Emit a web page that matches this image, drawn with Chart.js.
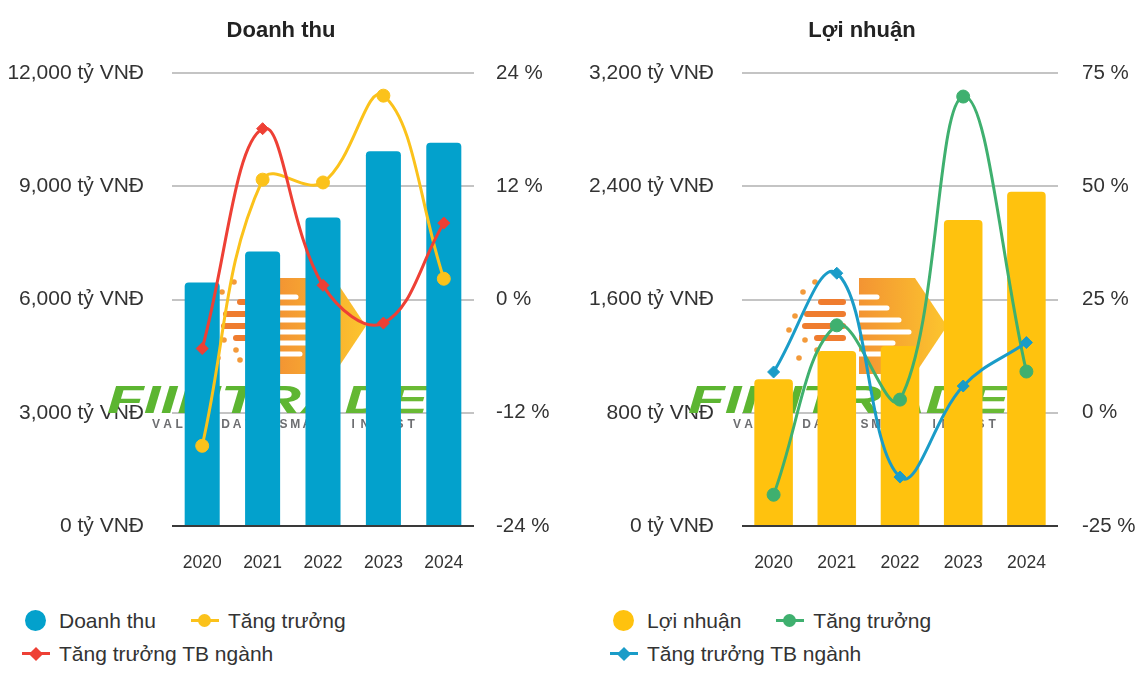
<!DOCTYPE html>
<html>
<head>
<meta charset="utf-8">
<script src="https://cdn.jsdelivr.net/npm/chart.js"></script>
<style>
body{margin:0;background:#fff;font-family:Arial,"Liberation Sans",sans-serif;}
#page{position:relative;width:1147px;height:695px;overflow:hidden}
.box{position:absolute;top:0;width:562px;height:590px}
.legend{position:absolute;top:604px;width:530px;display:flex;flex-wrap:wrap;column-gap:35px;font-size:21px;color:#333;line-height:33px}
.item{display:flex;align-items:center;white-space:nowrap}
.mk{position:relative;width:28px;height:33px;margin-right:9px}
.mk .dot{position:absolute;left:3px;top:6px;width:21px;height:21px;border-radius:50%}
.mk .ln{position:absolute;left:0;top:15px;width:28px;height:3px}
.mk .pc{position:absolute;left:7px;top:10px;width:13px;height:13px;border-radius:50%}
.mk .pd{position:absolute;left:9px;top:11.5px;width:10px;height:10px;transform:rotate(45deg)}
</style>
</head>
<body>
<div id="page">
  <div class="box" style="left:0"><canvas id="c1" width="562" height="590"></canvas></div>
  <div class="box" style="left:581px"><canvas id="c2" width="562" height="590"></canvas></div>
  <div class="legend" id="lg1" style="left:22px"></div>
  <div class="legend" id="lg2" style="left:610px"></div>
</div>
<script>
// values
const years = ['2020', '2021', '2022', '2023', '2024'];
const revenue = [6450, 7270, 8170, 9930, 10150];          // tỷ VNĐ
const revenueGrowth = [-15.5, 12.7, 12.4, 21.6, 2.2];      // %
const revenueIndustry = [-5.2, 18.1, 1.5, -2.5, 8.1];      // %
const profit = [1036, 1236, 1272, 2162, 2362];             // tỷ VNĐ
const profitGrowth = [-18.1, 19.3, 2.9, 69.8, 9.1];        // %
const profitIndustry = [9.0, 30.8, -14.2, 5.9, 15.5];      // %

// axis ticks
const revAxis = [0, 3000, 6000, 9000, 12000];
const revPctAxis = [-24, -12, 0, 12, 24];
const profAxis = [0, 800, 1600, 2400, 3200];
const profPctAxis = [-25, 0, 25, 50, 75];

const FONT = 'Arial, "Liberation Sans", sans-serif';

// FiinTrade watermark, drawn between grid and bars
const watermark = {
  id: 'watermark',
  beforeDatasetsDraw(chart) {
    const ctx = chart.ctx;
    ctx.save();
    // chevron body
    const g = ctx.createLinearGradient(278, 0, 366, 0);
    g.addColorStop(0, '#f39433');
    g.addColorStop(1, '#fcc52e');
    ctx.fillStyle = g;
    ctx.beginPath();
    ctx.moveTo(278, 278); ctx.lineTo(334, 278); ctx.lineTo(366, 326);
    ctx.lineTo(334, 374); ctx.lineTo(278, 374); ctx.closePath();
    ctx.fill();
    ctx.lineCap = 'round';
    // white stripes cut into the body
    const wRows = [297, 308, 320, 332, 343, 354];
    const wEnd = [296, 306, 318, 328, 312, 300];
    ctx.strokeStyle = '#ffffff';
    ctx.lineWidth = 5;
    wRows.forEach((y, i) => {
      ctx.beginPath(); ctx.moveTo(276, y); ctx.lineTo(wEnd[i], y); ctx.stroke();
    });
    // orange stripes and dots on the left
    const oRows = [302, 314, 326, 338];
    const oStart = [240, 226, 224, 236];
    ctx.strokeStyle = '#ef7c2f';
    ctx.lineWidth = 6;
    oRows.forEach((y, i) => {
      ctx.beginPath(); ctx.moveTo(oStart[i], y); ctx.lineTo(262, y); ctx.stroke();
    });
    ctx.fillStyle = '#f39a3a';
    [[234, 282], [222, 292], [214, 316], [224, 340], [218, 358], [240, 360], [236, 350], [208, 330]].forEach(([x, y]) => {
      ctx.beginPath(); ctx.arc(x, y, 2.8, 0, Math.PI * 2); ctx.fill();
    });
    // logo text
    ctx.font = 'italic bold 39px ' + FONT;
    const w = ctx.measureText('FIINTRADE').width;
    const tg = ctx.createLinearGradient(107, 0, 428, 0);
    tg.addColorStop(0, '#5cb531');
    tg.addColorStop(1, '#8cc63f');
    ctx.fillStyle = tg;
    ctx.translate(107, 413);
    ctx.scale(321 / w, 1);
    ctx.fillText('FIINTRADE', 0, 0);
    ctx.setTransform(1, 0, 0, 1, 0, 0);
    ctx.font = 'bold 12px ' + FONT;
    ctx.fillStyle = '#6d6e71';
    ctx.textAlign = 'center';
    'VALUE DATA SMART INVEST'.split('').forEach((ch, i) => {
      ctx.fillText(ch, 156 + i * 11.6, 428);
    });
    ctx.restore();
  }
};

function makeChart(id, opt) {
  return new Chart(document.getElementById(id), {
    data: {
      labels: years,
      datasets: [
        {
          type: 'bar', label: opt.barLabel, data: opt.bars, yAxisID: 'y',
          backgroundColor: opt.barColor, barPercentage: opt.barPct, categoryPercentage: 1,
          borderRadius: 4, borderSkipped: 'bottom', order: 3
        },
        {
          type: 'line', label: 'Tăng trưởng', data: opt.growth, yAxisID: 'y1',
          borderColor: opt.growthColor, backgroundColor: opt.growthColor, borderWidth: 3,
          pointStyle: 'circle', pointRadius: 6.5, pointBorderWidth: 1, tension: 0.4, order: 2
        },
        {
          type: 'line', label: 'Tăng trưởng TB ngành', data: opt.industry, yAxisID: 'y1',
          borderColor: opt.industryColor, backgroundColor: opt.industryColor, borderWidth: 3,
          pointStyle: 'rectRot', pointRadius: 6, pointBorderWidth: 1, tension: 0.4, order: 1
        }
      ]
    },
    options: {
      responsive: false,
      animation: false,
      layout: { padding: 0 },
      plugins: {
        legend: { display: false },
        tooltip: { enabled: false },
        title: {
          display: true, text: opt.title, color: '#222',
          font: { family: FONT, size: 22, weight: 'bold' },
          padding: { top: 18, bottom: 28.6 }
        }
      },
      scales: {
        x: {
          grid: { display: false, drawTicks: false },
          border: { display: false },
          ticks: { color: '#333', font: { family: FONT, size: 17.5 }, padding: 27 },
          afterFit: s => { s.height = 64; }
        },
        y: {
          position: 'left',
          min: opt.axis[0], max: opt.axis[opt.axis.length - 1],
          afterBuildTicks: s => { s.ticks = opt.axis.map(v => ({ value: v })); },
          grid: {
            drawTicks: false, lineWidth: 2,
            color: c => c.tick && c.tick.value === 0 ? '#3a3a3a' : '#c4c4c4'
          },
          border: { display: false },
          ticks: {
            color: '#333', font: { family: FONT, size: 21 }, padding: 28,
            callback: v => v.toLocaleString('en-US') + ' tỷ VNĐ'
          },
          afterFit: s => { s.width = opt.leftW; }
        },
        y1: {
          position: 'right',
          min: opt.pctAxis[0], max: opt.pctAxis[opt.pctAxis.length - 1],
          afterBuildTicks: s => { s.ticks = opt.pctAxis.map(v => ({ value: v })); },
          grid: { display: false, drawTicks: false },
          border: { display: false },
          ticks: {
            color: '#333', font: { family: FONT, size: 20.5 }, padding: opt.rightPad,
            callback: v => v + ' %'
          },
          afterFit: s => { s.width = opt.rightW; }
        }
      }
    },
    plugins: [watermark]
  });
}

function buildLegend(elId, chart) {
  const el = document.getElementById(elId);
  chart.data.datasets.forEach(ds => {
    const item = document.createElement('div');
    item.className = 'item';
    const mk = document.createElement('span');
    mk.className = 'mk';
    if (ds.type === 'bar') {
      mk.innerHTML = '<span class="dot" style="background:' + ds.backgroundColor + '"></span>';
    } else {
      const cls = ds.pointStyle === 'rectRot' ? 'pd' : 'pc';
      mk.innerHTML = '<span class="ln" style="background:' + ds.borderColor + '"></span>' +
        '<span class="' + cls + '" style="background:' + ds.borderColor + '"></span>';
    }
    const txt = document.createElement('span');
    txt.textContent = ds.label;
    item.appendChild(mk);
    item.appendChild(txt);
    el.appendChild(item);
  });
}

const chart1 = makeChart('c1', {
  title: 'Doanh thu', barLabel: 'Doanh thu', bars: revenue, growth: revenueGrowth, industry: revenueIndustry,
  barColor: '#03a1cc', growthColor: '#fbc21b', industryColor: '#ee4035',
  axis: revAxis, pctAxis: revPctAxis, barPct: 0.58, leftW: 172, rightW: 88, rightPad: 22
});
const chart2 = makeChart('c2', {
  title: 'Lợi nhuận', barLabel: 'Lợi nhuận', bars: profit, growth: profitGrowth, industry: profitIndustry,
  barColor: '#ffc20e', growthColor: '#3fb06f', industryColor: '#1a9cc8',
  axis: profAxis, pctAxis: profPctAxis, barPct: 0.61, leftW: 161, rightW: 85, rightPad: 24
});
buildLegend('lg1', chart1);
buildLegend('lg2', chart2);
</script>
</body>
</html>
